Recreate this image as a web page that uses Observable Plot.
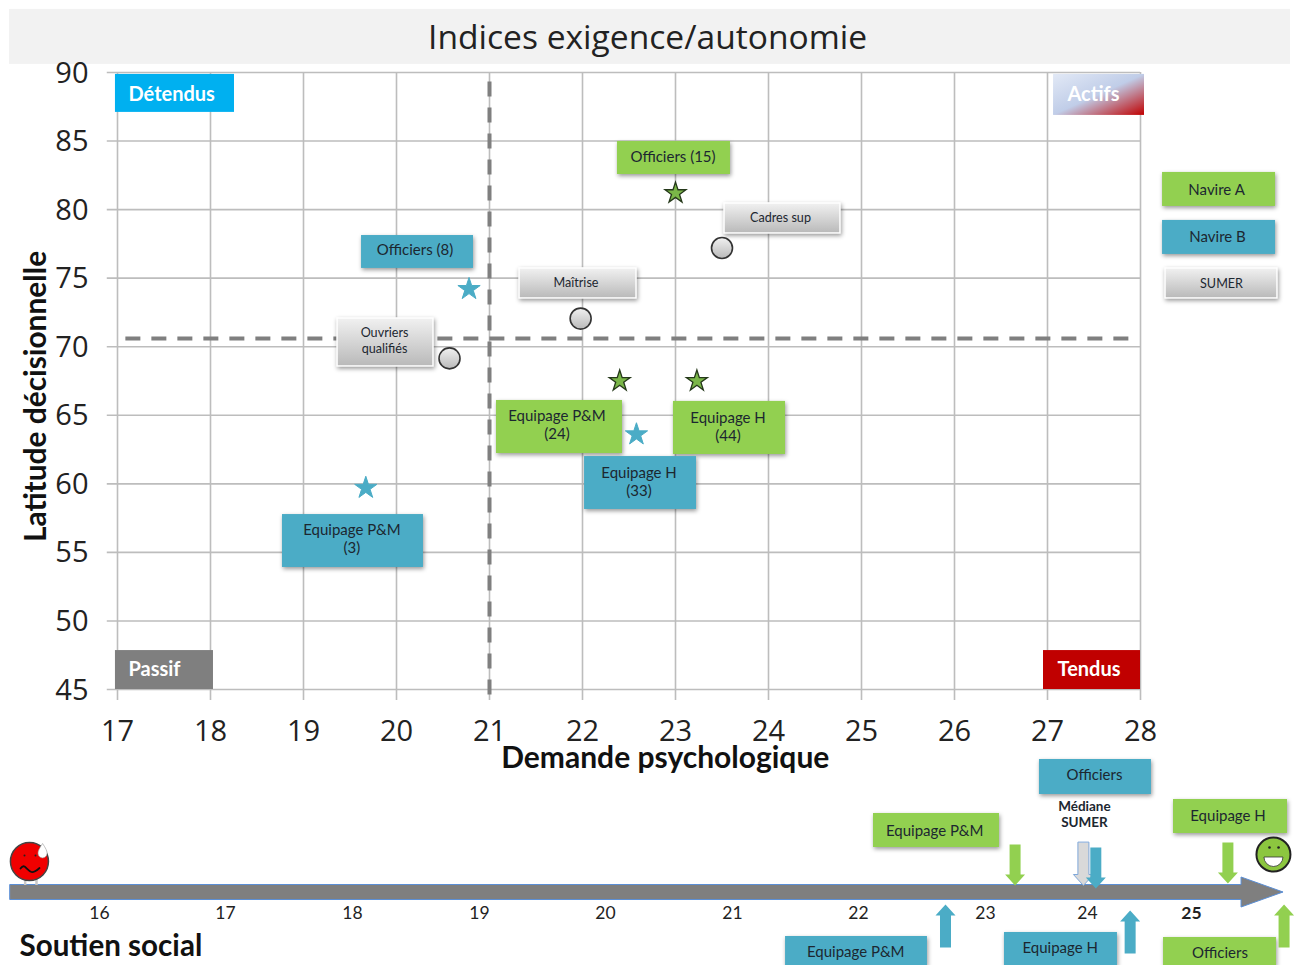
<!DOCTYPE html>
<html><head><meta charset="utf-8">
<script src="https://cdn.jsdelivr.net/npm/d3@7"></script>
<script src="https://cdn.jsdelivr.net/npm/@observablehq/plot@0.6"></script>
<style>
html,body{margin:0;padding:0;background:#fff}
#wrap{position:relative;width:1296px;height:965px;overflow:hidden}
#wrap svg{position:absolute;left:0;background:transparent;max-width:none}
</style></head><body><div id="wrap"></div>
<script>
const UI = "Open Sans", LB = "Lato";
const GREEN = "#92d050", BLUE = "#4bacc6", DARK = "#1c2730";

// Exigence / autonomie
const demandTicks = [17,18,19,20,21,22,23,24,25,26,27,28];
const latitudeTicks = [45,50,55,60,65,70,75,80,85,90];
const medianDemand = 21, medianLatitude = 70.6;
const navireA = [{x:23.0,y:81.2},{x:22.4,y:67.5},{x:23.23,y:67.5}];
const navireB = [{x:20.78,y:74.2},{x:19.67,y:59.7},{x:22.58,y:63.6}];
const sumer = [{x:23.5,y:77.2},{x:21.98,y:72.05},{x:20.57,y:69.15}];

// Label boxes, in chart units
const greenBoxes = [
  {t:"Officiers (15)",x1:22.376,x2:23.591,y1:84.97,y2:82.56,tx:22.973,ty:83.91},
  {t:"Equipage P&M\n(24)",x1:21.075,x2:22.43,y1:66.08,y2:62.21,tx:21.725,ty:64.365},
  {t:"Equipage H\n(44)",x1:22.978,x2:24.183,y1:66.01,y2:62.14,tx:23.565,ty:64.22},
  {t:"Navire A",x1:28.237,x2:29.452,y1:82.71,y2:80.23,tx:28.818,ty:81.47}
];
const blueBoxes = [
  {t:"Officiers (8)",x1:19.624,x2:20.828,y1:78.11,y2:75.71,tx:20.199,ty:77.13},
  {t:"Equipage H\n(33)",x1:22.022,x2:23.226,y1:61.99,y2:58.13,tx:22.608,ty:60.2},
  {t:"Equipage P&M\n(3)",x1:18.774,x2:20.29,y1:57.76,y2:53.9,tx:19.521,ty:56.05},
  {t:"Navire B",x1:28.237,x2:29.452,y1:79.21,y2:76.73,tx:28.828,ty:78.04}
];
const grayBoxes = [
  {t:"Cadres sup",x1:23.527,x2:24.774,y1:80.45,y2:78.26,tx:24.129,ty:79.43},
  {t:"Maîtrise",x1:21.323,x2:22.581,y1:75.71,y2:73.52,tx:21.93,ty:74.69},
  {t:"Ouvriers\nqualifiés",x1:19.366,x2:20.398,y1:72.06,y2:68.56,tx:19.871,ty:70.49},
  {t:"SUMER",x1:28.269,x2:29.473,y1:75.71,y2:73.52,tx:28.871,ty:74.615}
];
const quadrants = [
  {t:"Détendus",x1:16.978,x2:18.258,y1:89.86,y2:87.09,tx:17.118,ty:88.47,fill:"#00b0f0"},
  {t:"Actifs",x1:27.065,x2:28.043,y1:89.86,y2:86.87,tx:27.215,ty:88.47,fill:"url(#actifs)"},
  {t:"Passif",x1:16.978,x2:18.032,y1:47.84,y2:45,tx:17.118,ty:46.56,fill:"#7f7f7f"},
  {t:"Tendus",x1:26.957,x2:28,y1:47.84,y2:45,tx:27.108,ty:46.56,fill:"#c00000"}
];

// Soutien social
const supportTicks = [16,17,18,19,20,21,22,23,24];
const supportBold = [25];
const supportBreaks = [16,17,18,19,20,21,22,23,24,25];
const supportPlaces = [99,225,352,479,605,732,858,985,1087,1191];
const arrowsDownGreen = [{x:23.29,y:4.75},{x:25.35,y:4.95}];
const arrowsDownBlue = [{x:24.08,y:4.45}];
const arrowsDownSumer = [{x:23.96,y:4.95}];
const arrowsUpBlue = [{x:22.685,y:-5.55},{x:24.41,y:-6.15}];
const arrowsUpGreen = [{x:25.89,y:-5.55}];
const greenTags = [
  {t:"Equipage P&M",x1:22.118,x2:23.137,y1:7.85,y2:4.45,tx:22.6,ty:6.25},
  {t:"Equipage H",x1:24.827,x2:25.923,y1:9.25,y2:5.85,tx:25.351,ty:7.75},
  {t:"Officiers",x1:24.731,x2:25.817,y1:-4.55,y2:-7.4,tx:25.274,ty:-5.975}
];
const blueTags = [
  {t:"Officiers",x1:23.529,x2:24.615,y1:13.25,y2:9.75,tx:24.067,ty:11.8},
  {t:"Equipage P&M",x1:21.421,x2:22.543,y1:-4.45,y2:-7.4,tx:21.978,ty:-5.925},
  {t:"Equipage H",x1:23.186,x2:24.288,y1:-4.05,y2:-7.4,tx:23.732,ty:-5.525}
];

const shadow = "drop-shadow(1px 2px 2px rgba(0,0,0,.4))";
const txt = (data, size, opts={}) => Plot.text(data, {
  x:"tx", y:"ty", text:"t", fontFamily:LB, fontSize:size, fill:DARK,
  lineAnchor:"middle", lineHeight:1.25, clip:false, ...opts});
const box = (data, fill, opts={}) => Plot.rect(data, {x1:"x1",x2:"x2",y1:"y1",y2:"y2",fill, imageFilter:shadow, ...opts});
const defs = () => {
  const d = d3.create("svg:defs");
  d.html(`<linearGradient id="grayGrad" x1="0" y1="0" x2="0" y2="1"><stop offset="0" stop-color="#f1f1f1"/><stop offset="1" stop-color="#b9b9b9"/></linearGradient>
  <linearGradient id="actifs" x1="0" y1="0" x2="1" y2="1"><stop offset="0" stop-color="#e2e9f6"/><stop offset=".5" stop-color="#c0cde8"/><stop offset="1" stop-color="#c00000"/></linearGradient>`);
  return d.node();
};

const upper = Plot.plot({
  width:1296, height:965,
  marginLeft:117, marginRight:156, marginTop:72, marginBottom:276,
  x:{domain:[17,28]}, y:{domain:[45,90]},
  style:{background:"transparent", fontFamily:UI},
  marks:[
    defs,
    Plot.rect([{x1:15.839,x2:29.613,y1:94.6,y2:90.59}],{x1:"x1",x2:"x2",y1:"y1",y2:"y2",fill:"#f2f2f2",clip:false}),
    Plot.text(["Indices exigence/autonomie"],{x:[22.7],y:[92.5],text:d=>d,fontFamily:UI,fontSize:33.6,fill:"#222"}),
    Plot.ruleX(demandTicks,{y1:44.2,y2:90,stroke:"#bdbdbd",strokeWidth:1.6}),
    Plot.ruleY(latitudeTicks,{x1:16.89,x2:28,stroke:"#bdbdbd",strokeWidth:1.6}),
    Plot.axisX({ticks:demandTicks,tickSize:0,tickPadding:31,fontSize:29,fontFamily:UI,color:"#222",label:null,tickFormat:d=>d}),
    Plot.axisY({ticks:latitudeTicks,tickSize:0,tickPadding:29,fontSize:29,fontFamily:UI,color:"#222",label:null,tickFormat:d=>d,dy:0.8}),
    Plot.ruleX([medianDemand],{y1:44.6,y2:90,stroke:"#7f7f7f",strokeWidth:4,strokeDasharray:"15 11"}),
    Plot.ruleY([medianLatitude],{x1:17.09,x2:27.98,stroke:"#7f7f7f",strokeWidth:4,strokeDasharray:"15 11"}),
    box(quadrants,"fill",{imageFilter:undefined}),
    txt(quadrants,20,{textAnchor:"start",fill:"#fff",fontWeight:700}),
    box(greenBoxes,GREEN), txt(greenBoxes,15),
    box(blueBoxes,BLUE), txt(blueBoxes,15),
    box(grayBoxes,"url(#grayGrad)",{stroke:"#fff",strokeWidth:1.5}), txt(grayBoxes,12.6),
    Plot.dot(navireA,{x:"x",y:"y",symbol:"star",r:6.6,fill:"#7ab648",stroke:"#25381a",strokeWidth:1.3}),
    Plot.dot(navireB,{x:"x",y:"y",symbol:"star",r:7,fill:BLUE,stroke:BLUE,strokeWidth:1}),
    Plot.dot(sumer,{x:"x",y:"y",r:10.5,fill:"url(#grayGrad)",stroke:"#333",strokeWidth:1.6}),
    Plot.text(["Demande psychologique"],{x:[22.89],y:[39.97],text:d=>d,fontFamily:LB,fontWeight:700,fontSize:30,fill:"#111"}),
    Plot.text(["Latitude décisionnelle"],{x:[16.13],y:[66.37],text:d=>d,rotate:-90,fontFamily:LB,fontWeight:700,fontSize:29.9,fill:"#111"})
  ]
});
upper.style.top = "0";
document.getElementById("wrap").append(upper);

// Block arrow drawn from its start towards its tip
const block = (shaft, head, neck) => ({draw(c, l){
  c.moveTo(-shaft/2,0); c.lineTo(-shaft/2,-l+neck); c.lineTo(-head/2,-l+neck);
  c.lineTo(0,-l); c.lineTo(head/2,-l+neck); c.lineTo(shaft/2,-l+neck); c.lineTo(shaft/2,0); c.closePath();
}});
const halfDisk = {draw(c,size){const r=Math.sqrt(size/Math.PI); c.moveTo(-r,0); c.lineTo(r,0); c.arc(0,0,r,0,Math.PI); c.closePath();}};
const drop = {draw(c,size){const r=Math.sqrt(size/Math.PI); c.moveTo(0,-2*r); c.quadraticCurveTo(r*1.1,-0.4*r,r,0.2*r); c.arc(0,0.2*r,r,0,Math.PI); c.quadraticCurveTo(-r*1.1,-0.4*r,0,-2*r); c.closePath();}};
const vec = (data,rotate,fill,extra={}) => Plot.vector(data,{x:"x",y:"y",length:41,rotate,anchor:"start",shape:block(11,20,11),fill,stroke:"none",clip:false,...extra});

const bottom = Plot.plot({
  width:1296, height:220, margin:0,
  x:{type:"linear",domain:supportBreaks,range:supportPlaces,axis:null},
  y:{domain:[-7.35,14.65],range:[220,0],axis:null},
  style:{background:"transparent", fontFamily:LB},
  marks:[
    // the long axis arrow
    Plot.vector([{x:15.29,y:0}],{x:"x",y:"y",length:1273,rotate:90,anchor:"start",shape:block(15,30,42),fill:"#7f7f7f",stroke:"#5b8fd6",strokeWidth:1}),
    Plot.text(supportTicks,{x:d=>d,y:-2.15,text:d=>d,fontFamily:LB,fontSize:17.5,fill:"#222"}),
    Plot.text(supportBold,{x:d=>d,y:-2.15,text:d=>d,fontFamily:LB,fontSize:17.5,fontWeight:700,fill:"#222"}),
    Plot.text(["Soutien social"],{x:[15.365],y:[-5.45],text:d=>d,textAnchor:"start",fontFamily:LB,fontWeight:700,fontSize:29.6,fill:"#111"}),
    Plot.text(["Médiane\nSUMER"],{x:[23.97],y:[7.8],text:d=>d,fontFamily:LB,fontWeight:700,fontSize:13.5,lineHeight:1.2,fill:DARK}),
    box(greenTags,GREEN), txt(greenTags,15),
    box(blueTags,BLUE), txt(blueTags,15),
    vec(arrowsDownSumer,180,"#d9d9d9",{stroke:"#7fa7d9",strokeWidth:1,length:43}),
    vec(arrowsDownGreen,180,GREEN),
    vec(arrowsDownBlue,180,BLUE),
    vec(arrowsUpBlue,0,BLUE,{length:43}),
    vec(arrowsUpGreen,0,GREEN,{length:43}),
    // red face
    Plot.ruleX([15.41,15.5],{y1:1.35,y2:0.65,stroke:"#c9c9c9",strokeWidth:2.5}),
    Plot.dot([{x:15.444,y:3.05}],{x:"x",y:"y",r:19,fill:"#f00000",stroke:"#444",strokeWidth:1.5}),
    Plot.dot([{x:15.405,y:3.65},{x:15.492,y:3.65}],{x:"x",y:"y",r:1,fill:"#222"}),
    Plot.line([{x:15.373,y:2.35},{x:15.405,y:2.55},{x:15.46,y:2.0},{x:15.524,y:2.4}],{x:"x",y:"y",curve:"natural",stroke:"#111",strokeWidth:1.8}),
    Plot.dot([{x:15.548,y:3.95}],{x:"x",y:"y",symbol:drop,r:4.5,fill:"#fff",stroke:"#999",strokeWidth:.6}),
    // green face
    Plot.dot([{x:25.788,y:3.75}],{x:"x",y:"y",r:17,fill:"#8cc63f",stroke:"#222",strokeWidth:2}),
    Plot.dot([{x:25.75,y:4.45},{x:25.837,y:4.45}],{x:"x",y:"y",r:1.3,fill:"#222"}),
    Plot.dot([{x:25.788,y:3.5}],{x:"x",y:"y",symbol:halfDisk,r:9.5,fill:"#fff",stroke:"#333",strokeWidth:.8})
  ]
});
bottom.style.top = "745px";
document.getElementById("wrap").append(bottom);
</script></body></html>
